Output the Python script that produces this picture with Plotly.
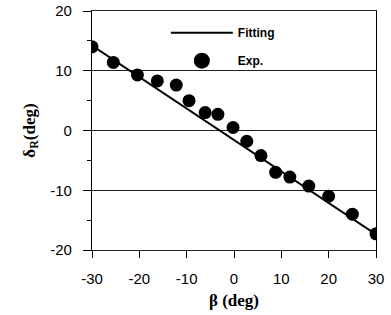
import plotly.graph_objects as go

beta_exp = [-30, -25.5, -20.4, -16.2, -12.2, -9.5, -6.1, -3.4, -0.2, 2.7, 5.7, 8.8, 11.8, 15.8, 20, 25, 30]
delta_exp = [14, 11.4, 9.3, 8.3, 7.6, 5, 3, 2.7, 0.5, -1.8, -4.2, -7, -7.8, -9.3, -11, -14, -17.3]
beta_fit = [-30, 30]
delta_fit = [14.2, -17.4]

xticks = [-30, -20, -10, 0, 10, 20, 30]
xticklabels = ["-30", "-20", "-10", "0", "10", "20", "30"]
yticks = [-20, -10, 0, 10, 20]
yticklabels = ["-20", "-10", "0", "10", "20"]

fig = go.Figure()
fig.add_trace(go.Scatter(x=beta_fit, y=delta_fit, mode="lines",
                         line=dict(color="black", width=2), showlegend=False))
fig.add_trace(go.Scatter(x=beta_exp, y=delta_exp, mode="markers",
                         marker=dict(color="black", size=13), showlegend=False))
fig.add_trace(go.Scatter(x=[None], y=[None], mode="lines", name="Fitting",
                         line=dict(color="black", width=2), legendgroup="a"))
fig.add_trace(go.Scatter(x=[None], y=[None], mode="markers", name="Exp.",
                         marker=dict(color="black", size=16), legendgroup="b"))

fig.update_layout(
    width=391, height=315,
    margin=dict(l=91.5, r=14.5, t=11, b=65),
    plot_bgcolor="white", paper_bgcolor="white",
    showlegend=True,
    legend=dict(x=0.26, y=0.97, xanchor="left", yanchor="top",
                bgcolor="rgba(0,0,0,0)", itemwidth=62, tracegroupgap=9,
                font=dict(family="Liberation Sans", size=12, color="black", weight="bold")),
    xaxis=dict(range=[-30, 30], tickvals=xticks, ticktext=xticklabels,
               ticks="outside", ticklen=7, ticklabelstandoff=8,
               tickcolor="black", tickwidth=1, showgrid=False, zeroline=False,
               showline=True, linecolor="#222", linewidth=1, mirror=True,
               automargin=False,
               tickfont=dict(family="Liberation Sans", size=15, color="black"),
               title=dict(text="β (deg)", standoff=8,
                          font=dict(family="Liberation Serif", size=17, color="black", weight="bold"))),
    yaxis=dict(range=[-20, 20], tickvals=yticks, ticktext=yticklabels,
               ticks="outside", ticklen=8, ticklabelstandoff=8,
               tickcolor="black", tickwidth=1, showgrid=True, gridcolor="#222",
               gridwidth=1, zeroline=False, showline=True, linecolor="black",
               linewidth=1.2, mirror=True, automargin=False,
               minor=dict(tickvals=[-15, -5, 5, 15], ticks="outside", ticklen=4,
                          tickcolor="black", showgrid=False),
               tickfont=dict(family="Liberation Sans", size=15, color="black"),
               title=dict(text="δ<sub>R</sub>(deg)", standoff=10,
                          font=dict(family="Liberation Serif", size=17, color="black", weight="bold"))),
)

fig.write_html("out.html", config={"displayModeBar": False},
               post_script="document.body.style.margin='0';document.body.style.overflow='hidden';")
